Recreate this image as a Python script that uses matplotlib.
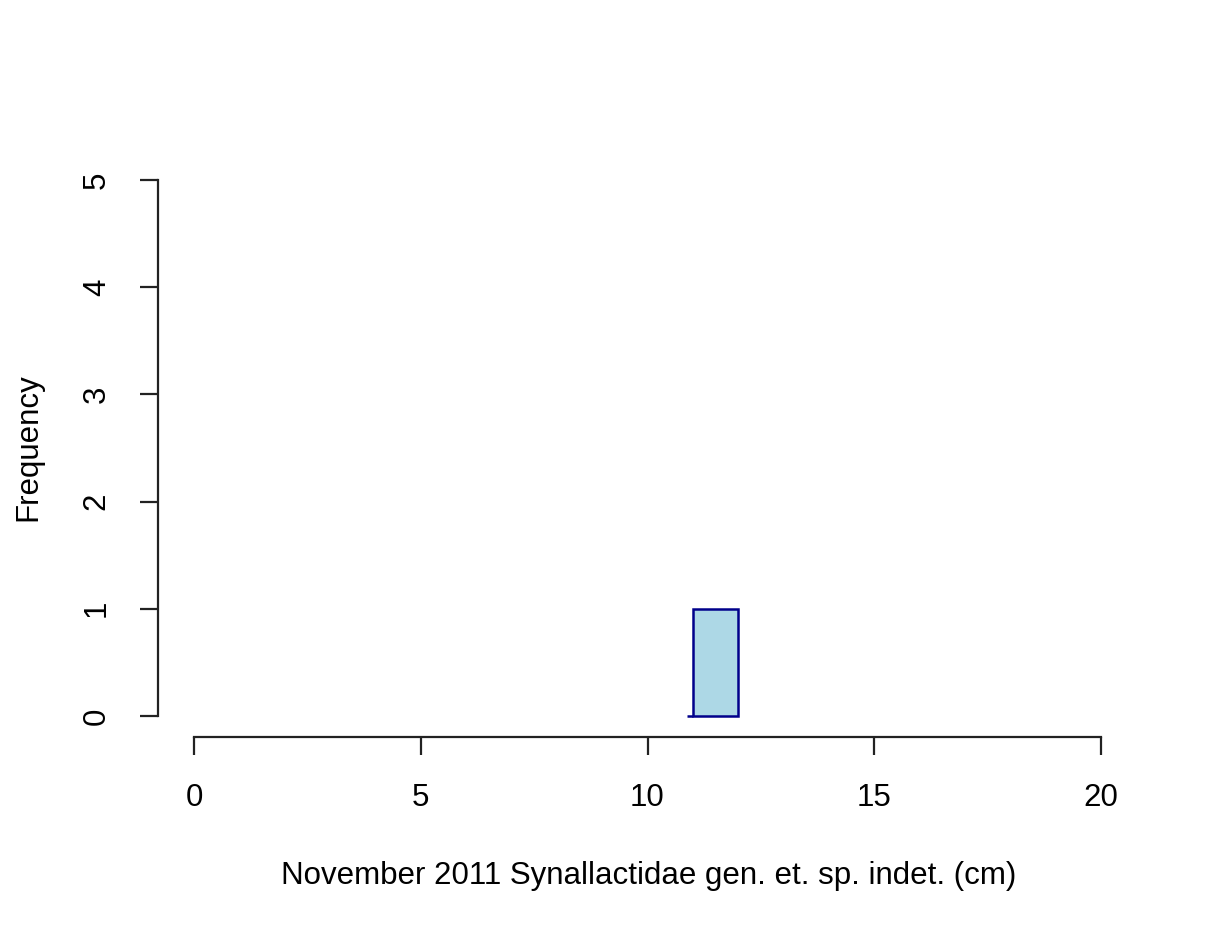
import matplotlib
matplotlib.use("Agg")
import matplotlib.pyplot as plt

# Data
bin_edges = [10.87, 11.0, 12.0]
counts = [0, 1]
x_ticks = [0, 5, 10, 15, 20]
y_ticks = [0, 1, 2, 3, 4, 5]
xlabel = "November 2011 Synallactidae gen. et. sp. indet. (cm)"
ylabel = "Frequency"

W, H = 1220, 934
DPI = 100
plt.rcParams['font.family'] = ['Liberation Sans', 'DejaVu Sans']
fig = plt.figure(figsize=(W / DPI, H / DPI), dpi=DPI)
left, right = 157.7 / W, 1137.3 / W
bottom, top = (H - 737.4) / H, (H - 158.6) / H
ax = fig.add_axes([left, bottom, right - left, top - bottom])

lefts = bin_edges[:-1]
widths = [b - a for a, b in zip(bin_edges[:-1], bin_edges[1:])]
ax.bar(lefts, counts, width=widths, align='edge', color='#ADD8E6',
       edgecolor='#00008B', linewidth=1.8)

ax.set_xlim(-0.8, 20.8)
ax.set_ylim(-0.2, 5.2)
for s in ['top', 'right']:
    ax.spines[s].set_visible(False)
ax.spines['left'].set_bounds(0, 5)
ax.spines['bottom'].set_bounds(0, 20)
for s in ['left', 'bottom']:
    ax.spines[s].set_linewidth(1.6)
    ax.spines[s].set_color('#222222')

fs = 22.5
ax.set_xticks(x_ticks)
ax.set_xticklabels([str(t) for t in x_ticks], fontsize=fs)
ax.set_yticks(y_ticks)
ax.set_yticklabels([str(t) for t in y_ticks], fontsize=fs, rotation=90, va='center')
ax.tick_params(axis='both', length=13, width=1.6, color='#222222', pad=20)

fig.text(649 / W, 1 - 876 / H, xlabel, ha='center', va='center', fontsize=fs)
fig.text(28 / W, 1 - 447 / H, ylabel, ha='center', va='center', fontsize=fs, rotation=90)

fig.savefig("out.png", dpi=DPI)
